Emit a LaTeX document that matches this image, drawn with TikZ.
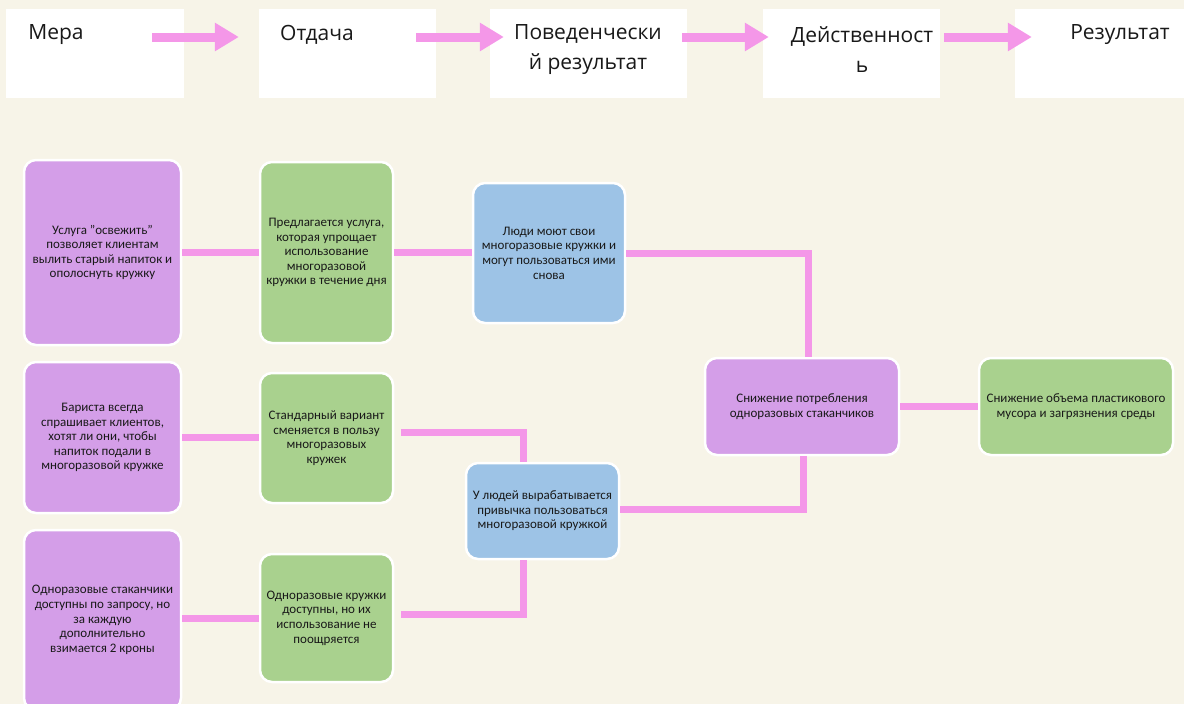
\documentclass[tikz,border=0pt]{standalone}
\usepackage{fontspec}
\setmainfont{Carlito}
\newfontfamily\headfont{Open Sans}
\usetikzlibrary{arrows.meta}

\definecolor{bgcream}{HTML}{F7F4E8}
\definecolor{linkpink}{HTML}{F497E8}
\definecolor{boxpurple}{HTML}{D49EE8}
\definecolor{boxgreen}{HTML}{A9D18E}
\definecolor{boxblue}{HTML}{9DC3E6}

\tikzset{
  hdrbox/.style={fill=white, inner sep=0pt, minimum height=89pt, minimum width=#1},
  hdrtext/.style={font=\headfont\fontsize{21}{30}\selectfont, align=center, text=black!90},
  hdrarrow/.style={draw=linkpink, line width=9pt, -{Triangle[length=24pt,width=27pt]}},
  stepbox/.style={draw=white, line width=2.5pt, rounded corners=12pt, align=center,
    inner sep=2pt, font=\fontsize{13}{14.6}\selectfont, text=black!90},
  purplebox/.style={stepbox, fill=boxpurple},
  greenbox/.style={stepbox, fill=boxgreen},
  bluebox/.style={stepbox, fill=boxblue},
  link/.style={draw=linkpink, line width=7pt}
}

\begin{document}
\begin{tikzpicture}[x=1pt,y=-1pt]
  \fill[bgcream] (0,0) rectangle (1184,704);
  \useasboundingbox (0,0) rectangle (1184,704);
  \clip (0,0) rectangle (1184,704);

  % header row
  \node (h1) at (95,53.5) [hdrbox=178pt] {};
  \node (h2) at (347.5,53.5) [hdrbox=177pt] {};
  \node (h3) at (588.5,53.5) [hdrbox=197pt] {};
  \node (h4) at (851.5,53.5) [hdrbox=177pt] {};
  \node (h5) at (1102.5,53.5) [hdrbox=175pt] {};
  \node (t1) at (56,35) [hdrtext] {Мера};
  \node (t2) at (317,35) [hdrtext] {Отдача};
  \node (t3) at (588,50) [hdrtext] {Поведенчески\\й результат};
  \node (t4) at (862,50) [hdrtext] {Действенност\\ь};
  \node (t5) at (1120,35) [hdrtext] {Результат};
  \draw[hdrarrow] ([shift={(-32,-16.5)}]h1.east) -- ([shift={(-20,-16.5)}]h2.west);
  \draw[hdrarrow] ([shift={(-20,-16.5)}]h2.east) -- ([shift={(14,-16.5)}]h3.west);
  \draw[hdrarrow] ([shift={(-5,-16.5)}]h3.east) -- ([shift={(6,-16.5)}]h4.west);
  \draw[hdrarrow] ([shift={(4,-16.5)}]h4.east) -- ([shift={(17,-16.5)}]h5.west);

  % measures
  \node (p1) at (102.5,252.5) [purplebox, minimum width=157pt, minimum height=185pt]
    {Услуга "освежить"\\позволяет клиентам\\вылить старый напиток и\\ополоснуть кружку};
  \node (p2) at (102.5,437.5) [purplebox, minimum width=157pt, minimum height=151pt]
    {Бариста всегда\\спрашивает клиентов,\\хотят ли они, чтобы\\напиток подали в\\многоразовой кружке};
  \node (p3) at (102.5,620) [purplebox, minimum width=157pt, minimum height=180pt]
    {Одноразовые стаканчики\\доступны по запросу, но\\за каждую\\дополнительно\\взимается 2 кроны};

  % outputs
  \node (g1) at (326.5,252.5) [greenbox, minimum width=133pt, minimum height=181pt]
    {Предлагается услуга,\\которая упрощает\\использование\\многоразовой\\кружки в течение дня};
  \node (g2) at (326.5,438) [greenbox, minimum width=133pt, minimum height=130pt]
    {Стандарный вариант\\сменяется в пользу\\многоразовых\\кружек};
  \node (g3) at (326.5,618) [greenbox, minimum width=133pt, minimum height=128pt]
    {Одноразовые кружки\\доступны, но их\\использование не\\поощряется};

  % behaviour
  \node (b1) at (549,253) [bluebox, minimum width=152pt, minimum height=140pt]
    {Люди моют свои\\многоразовые кружки и\\могут пользоваться ими\\снова};
  \node (b2) at (542.5,511) [bluebox, minimum width=153pt, minimum height=96pt]
    {У людей вырабатывается\\привычка пользоваться\\многоразовой кружкой};

  % effect and result
  \node (p4) at (802,406.5) [purplebox, minimum width=194pt, minimum height=97pt]
    {Снижение потребления\\одноразовых стаканчиков};
  \node (g4) at (1076,406.5) [greenbox, minimum width=194pt, minimum height=97pt]
    {Снижение объема пластикового\\мусора и загрязнения среды};

  % links
  \draw[link] (p1.east) -- (p1.east -| g1.west);
  \draw[link] (g1.east) -- (g1.east -| b1.west);
  \draw[link] (p2.east) -- (p2.east -| g2.west);
  \draw[link] (g3.west -| p3.east) -- (g3.west);
  \draw[link] (b1.east) -| ([xshift=6]p4.north);
  \draw[link] ([shift={(7,-6)}]g2.east) -| ([xshift=-19]b2.north);
  \draw[link] ([shift={(7,-4)}]g3.east) -| ([xshift=-19]b2.south);
  \draw[link] ([yshift=2]b2.east) -| ([xshift=1]p4.south);
  \draw[link] (p4.east) -- (p4.east -| g4.west);
\end{tikzpicture}
\end{document}
